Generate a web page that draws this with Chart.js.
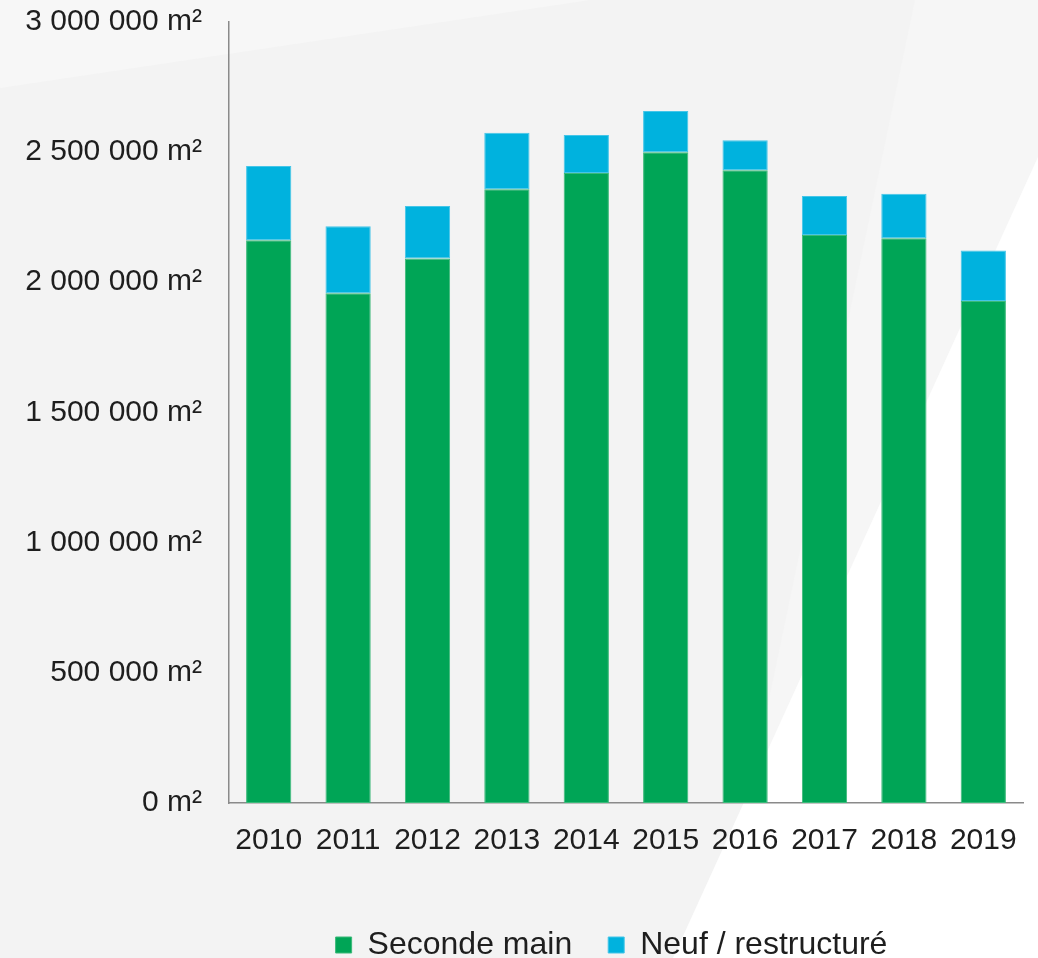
<!DOCTYPE html>
<html lang="fr">
<head>
<meta charset="utf-8">
<title>Surfaces</title>
<script src="https://cdn.jsdelivr.net/npm/chart.js@4/dist/chart.umd.min.js"></script>
<style>
  html, body { margin: 0; padding: 0; background: #f3f3f3; }
  #wrap { width: 1038px; height: 958px; position: relative; }
</style>
</head>
<body>
<div id="wrap"><canvas id="c" width="1038" height="958"></canvas></div>
<script>
// Années
const YEARS = ['2010', '2011', '2012', '2013', '2014', '2015', '2016', '2017', '2018', '2019'];
// Surfaces en m²
const SECONDE_MAIN = [2160000, 1957000, 2090000, 2356000, 2418000, 2498000, 2429000, 2180000, 2168000, 1927000];
const NEUF_RESTRUCTURE = [285000, 257000, 202000, 217000, 146000, 158000, 115000, 150000, 171000, 194000];
// Axe des valeurs
const Y_MIN = 0;
const Y_MAX = 3000000;
const Y_STEP = 500000;

const FONT = "'Liberation Sans', Arial, sans-serif";
const TEXT = '#1e1e1e';
const AXIS = '#8a8a8a';
const LEGEND_SHIFT = 100;

function formatM2(v) {
  return String(v).replace(/\B(?=(\d{3})+(?!\d))/g, ' ') + ' m²';
}

// Fond gris clair avec bandes diagonales plus claires
const backdrop = {
  id: 'backdrop',
  beforeDraw(chart) {
    const ctx = chart.ctx;
    const w = chart.width, h = chart.height;
    ctx.save();
    ctx.fillStyle = '#f3f3f3';
    ctx.fillRect(0, 0, w, h);
    ctx.fillStyle = '#f7f7f7';
    ctx.beginPath();
    ctx.moveTo(0, 0); ctx.lineTo(590, 0); ctx.lineTo(0, 88); ctx.closePath();
    ctx.fill();
    ctx.fillStyle = '#f6f6f6';
    ctx.beginPath();
    ctx.moveTo(915, 0); ctx.lineTo(w, 0); ctx.lineTo(w, h); ctx.lineTo(715, h); ctx.closePath();
    ctx.fill();
    ctx.fillStyle = '#ffffff';
    ctx.beginPath();
    ctx.moveTo(w, 157); ctx.lineTo(w, h); ctx.lineTo(673, h); ctx.closePath();
    ctx.fill();
    ctx.restore();
  }
};

// Décale la légende vers la droite, sous la zone de tracé
const legendShift = {
  id: 'legendShift',
  afterLayout(chart) {
    const lg = chart.legend;
    if (lg) { lg.left += LEGEND_SHIFT; lg.right += LEGEND_SHIFT; }
  }
};

new Chart(document.getElementById('c'), {
  type: 'bar',
  data: {
    labels: YEARS,
    datasets: [
      {
        label: 'Seconde main',
        data: SECONDE_MAIN,
        backgroundColor: '#00a556',
        borderColor: '#3bb979',
        borderWidth: 1,
        borderSkipped: false
      },
      {
        label: 'Neuf / restructuré',
        data: NEUF_RESTRUCTURE,
        backgroundColor: '#00b2de',
        borderColor: '#44c5e8',
        borderWidth: 1,
        borderSkipped: false
      }
    ]
  },
  options: {
    responsive: false,
    animation: false,
    devicePixelRatio: 1,
    layout: { padding: { left: 0, right: 15, top: 0, bottom: -13 } },
    datasets: { bar: { categoryPercentage: 1, barPercentage: 0.57 } },
    plugins: {
      tooltip: { enabled: false },
      legend: {
        position: 'bottom',
        labels: {
          color: TEXT,
          font: { family: FONT, size: 32 },
          boxWidth: 16,
          boxHeight: 16,
          padding: 36,
          useBorderRadius: false
        }
      }
    },
    scales: {
      x: {
        stacked: true,
        grid: { display: false, drawTicks: false },
        border: { display: true, color: AXIS, width: 1.5 },
        ticks: { color: TEXT, font: { family: FONT, size: 30 }, padding: 20, maxRotation: 0 },
        afterFit(scale) { scale.height = 90; }
      },
      y: {
        stacked: true,
        min: Y_MIN,
        max: Y_MAX,
        grid: { display: false, drawTicks: false },
        border: { display: true, color: AXIS, width: 1.5 },
        ticks: {
          stepSize: Y_STEP,
          color: TEXT,
          font: { family: FONT, size: 30 },
          padding: 27,
          callback: (v) => formatM2(v)
        },
        afterFit(scale) { scale.width = 229; scale.paddingTop = 21.5; }
      }
    }
  },
  plugins: [backdrop, legendShift]
});
</script>
</body>
</html>
